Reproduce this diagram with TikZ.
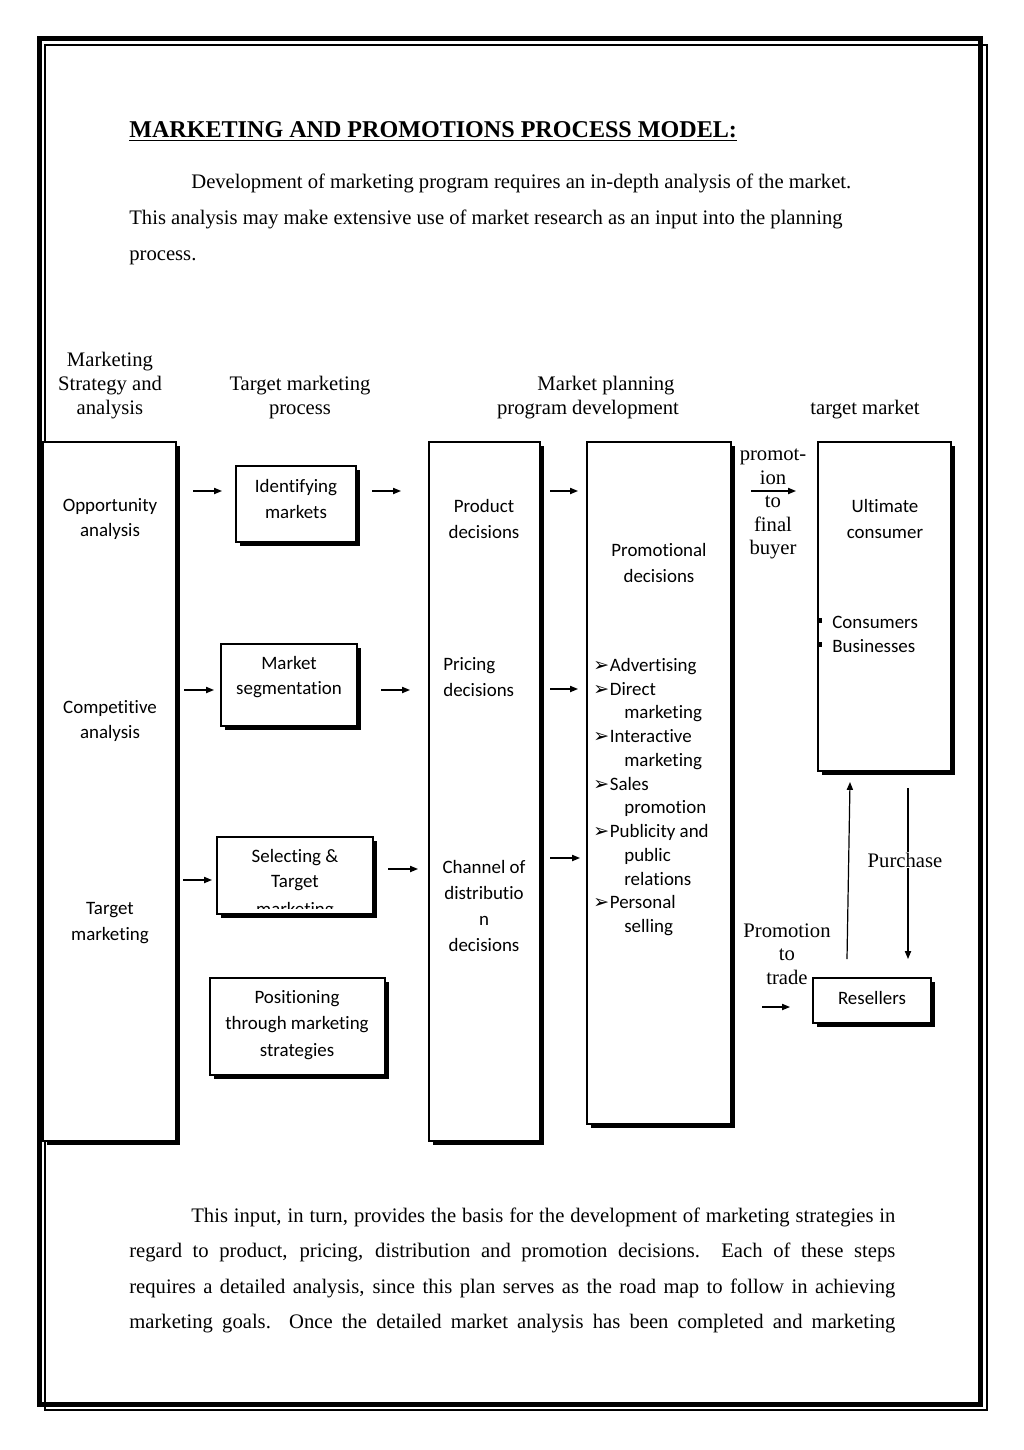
\documentclass[tikz,border=0pt]{standalone}
\usepackage{fontspec}
\setmainfont{Liberation Serif}
\newfontfamily\calfont[Ligatures=NoCommon]{Carlito}
\newfontfamily\djfont{DejaVu Sans}
\usetikzlibrary{arrows.meta,shadows,fit}
\newcommand\shbox[5]{\node[sbox, fit={(#2,#3)(#4,#5)}] (#1) {};}
\newcommand\bl{\makebox[9.6pt][l]{\djfont\fontsize{11}{11}\selectfont ➢}}
\newcommand\ind{\hspace*{18pt}}
\tikzset{
  sbox/.style={draw, line width=0.6pt, fill=white, inner sep=0pt,
    drop shadow={shadow xshift=2.3pt, shadow yshift=-2.3pt, fill=black, opacity=1}},
  bt/.style={font=\calfont\fontsize{11}{15}\selectfont, align=center, inner sep=0pt},
  tt/.style={font=\fontsize{12}{13.8}\selectfont, align=center, inner sep=0pt},
  pt/.style={font=\fontsize{12}{14}\selectfont, inner sep=0pt},
  arr/.style={line width=0.7pt, -{Triangle[length=4.6pt,width=3.6pt]}},
  frthick/.style={line width=2.9pt},
  frthin/.style={line width=1.3pt}
}
\begin{document}
\begin{tikzpicture}[x=0.5812pt, y=-0.5812pt]
\useasboundingbox (0,0) rectangle (1024,1450);
% page frame
\draw[frthick] (39.5,38.5) rectangle (980.5,1404);
\draw[frthin] (44.8,44.8) rectangle (987,1410);

% title and first paragraph
\node[pt, anchor=mid west, font=\bfseries\fontsize{14}{16}\selectfont] (title) at (129,134) {\underline{MARKETING AND PROMOTIONS PROCESS MODEL:}};
\node[pt, anchor=mid west] (p1a) at (191,185) {Development of marketing program requires an in-depth analysis of the market.};
\node[pt, anchor=mid west] (p1b) at (129,221) {This analysis may make extensive use of market research as an input into the planning};
\node[pt, anchor=mid west] (p1c) at (129,257) {process.};

% column headings
\node[tt] (h1) at (110,385.5) {Marketing\\Strategy and\\analysis};
\node[tt] (h2) at (300,397.5) {Target marketing\\process};
\node[tt] (h3a) at (606,385.5) {Market planning};
\node[tt] (h3b) at (588,409.5) {program development};
\node[tt] (h4) at (865,409.5) {target market};

% boxes
\shbox{c1}{43}{442}{176}{1141}
\shbox{c3}{429}{442}{540}{1141}
\shbox{c4}{587}{442}{731}{1124}
\shbox{c5}{818}{442}{951}{771}
\shbox{idm}{236}{466}{356}{542}
\shbox{seg}{221}{644}{357}{726}
\shbox{sel}{217}{837}{373}{914}
\shbox{pos}{210}{978}{385}{1075}
\shbox{res}{813}{978}{931}{1023}

% column 1 texts
\node[bt] (t1a) at (110,519) {Opportunity\\analysis};
\node[bt] (t1b) at (110,721) {Competitive\\analysis};
\node[bt] (t1c) at (110,923) {Target\\marketing};

% column 2 texts
\node[bt] (t2a) at (296,499) {Identifying\\markets};
\node[bt] (t2b) at (289,677) {Market\\segmentation};
\node[bt] (t2c) at (295,870) {Selecting \&\\Target};
\begin{scope}
\clip (217,837) rectangle (373,908);
\node[bt] (t2d) at (295,911) {marketing};
\end{scope}
\node[bt, font=\calfont\fontsize{11}{15.4}\selectfont] (t2e) at (297,1025) {Positioning\\through marketing\\strategies};

% column 3 texts
\node[bt] (t3a) at (484,519) {Product\\decisions};
\node[bt, align=left, anchor=west] (t3b) at (443,677) {Pricing\\decisions};
\node[bt] (t3c) at (484,906) {Channel of\\distributio\\n\\decisions};

% column 4 texts
\node[bt] (t4a) at (659,563) {Promotional\\decisions};
\node[bt, align=left, anchor=west, font=\calfont\fontsize{11}{13.8}\selectfont] (t4b) at (593,797)
  {\bl Advertising\\\bl Direct\\\ind marketing\\\bl Interactive\\\ind marketing\\\bl Sales\\\ind promotion\\\bl Publicity and\\\ind public\\\ind relations\\\bl Personal\\\ind selling};

% column 5 texts
\node[tt, font=\fontsize{12}{13.7}\selectfont] (t5a) at (773,504) {promot-\\ion\\to\\final\\buyer};
\node[bt] (t5b) at (885,519) {Ultimate\\consumer};
\fill (818,618) rectangle (822,623);
\fill (818,642) rectangle (822,647);
\node[bt, align=left, anchor=west, font=\calfont\fontsize{11}{14}\selectfont] (t5c) at (832,634) {Consumers\\Businesses};
\node[tt] (t5e) at (787,954) {Promotion\\to\\trade};
\node[bt] (t5f) at (872,998) {Resellers};

% arrows
\coordinate (a1s) at (193,491); \coordinate (a1e) at (222,491);
\coordinate (a2s) at (372,491); \coordinate (a2e) at (401,491);
\coordinate (a3s) at (550,491); \coordinate (a3e) at (578,491);
\coordinate (a4s) at (751,491); \coordinate (a4e) at (796,491);
\coordinate (b1s) at (184,690); \coordinate (b1e) at (214,690);
\coordinate (b2s) at (381,690); \coordinate (b2e) at (410,690);
\coordinate (b3s) at (550,689); \coordinate (b3e) at (578,689);
\coordinate (c1s) at (183,880); \coordinate (c1e) at (212,880);
\coordinate (c2s) at (388,869); \coordinate (c2e) at (418,869);
\coordinate (c3s) at (550,858); \coordinate (c3e) at (580,858);
\coordinate (d1s) at (762,1007); \coordinate (d1e) at (790,1007);
\coordinate (ups) at (847,959); \coordinate (upe) at (850,782);
\coordinate (dns) at (908,788); \coordinate (dne) at (908,959);
\foreach \a in {a1,a2,a3,a4,b1,b2,b3,c1,c2,c3,d1,up,dn}{
  \draw[arr] (\a s) -- (\a e);
}
\node[tt, fill=white, inner sep=0.5pt] (t5d) at (905,860) {Purchase};

% closing paragraph
\node[pt, anchor=mid west] (p2a) at (191,1219) {\makebox[409.2pt][s]{This input, in turn, provides the basis for the development of marketing strategies in}};
\node[pt, anchor=mid west] (p2b) at (129,1254) {\makebox[445.2pt][s]{regard to product, pricing, distribution and promotion decisions.\ \ Each of these steps}};
\node[pt, anchor=mid west] (p2c) at (129,1290) {\makebox[445.2pt][s]{requires a detailed analysis, since this plan serves as the road map to follow in achieving}};
\node[pt, anchor=mid west] (p2d) at (129,1325) {\makebox[445.2pt][s]{marketing goals.\ \ Once the detailed market analysis has been completed and marketing}};
\end{tikzpicture}
\end{document}
